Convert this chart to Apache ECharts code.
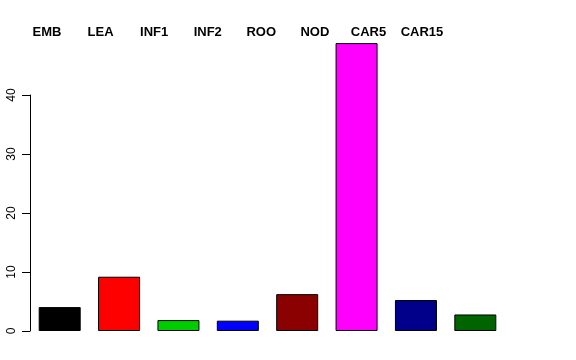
<!DOCTYPE html>
<html>
<head>
<meta charset="utf-8">
<script src="https://cdn.jsdelivr.net/npm/echarts@6/dist/echarts.min.js"></script>
<style>html,body{margin:0;padding:0;background:#fff;}#c{width:576px;height:360px;}</style>
</head>
<body>
<div id="c"></div>
<script>
var categories = ["EMB", "LEA", "INF1", "INF2", "ROO", "NOD", "CAR5", "CAR15"];
var values = [4.05, 9.2, 1.85, 1.75, 6.25, 48.8, 5.25, 2.8];
var barColors = ["#000000", "#FF0000", "#00CD00", "#0000FF", "#8B0000", "#FF00FF", "#00008B", "#006400"];
var yTicks = [0, 10, 20, 30, 40];

var chart = echarts.init(document.getElementById('c'), null, {renderer: 'canvas'});
var font = '"Liberation Sans", Arial, Helvetica, sans-serif';
chart.setOption({
  animation: false,
  backgroundColor: '#ffffff',
  grid: [
    {left: 30, width: 475, top: 36, height: 295},
    {left: 30, width: 475, top: 95, height: 236},
    {left: 20.2, width: 428.6, top: 40, height: 1}
  ],
  xAxis: [
    {gridIndex: 0, type: 'category', data: categories, show: false},
    {gridIndex: 1, type: 'category', data: categories, show: false},
    {gridIndex: 2, type: 'category', data: categories, position: 'top',
     axisLine: {show: false}, axisTick: {show: false},
     axisLabel: {show: true, interval: 0, margin: 8, verticalAlign: 'middle',
       fontFamily: font, fontSize: 13, fontWeight: 'bold', color: '#000'}}
  ],
  yAxis: [
    {gridIndex: 0, type: 'value', min: 0, max: 50, show: false},
    {gridIndex: 1, type: 'value', min: yTicks[0], max: yTicks[yTicks.length - 1], interval: 10,
     axisLine: {show: true, lineStyle: {color: '#000', width: 1}},
     axisTick: {show: true, length: 8, lineStyle: {color: '#000'}},
     splitLine: {show: false},
     axisLabel: {rotate: 90, margin: 12, fontFamily: font, fontSize: 12, color: '#000'}},
    {gridIndex: 2, type: 'value', show: false}
  ],
  series: [
    {type: 'bar', xAxisIndex: 0, yAxisIndex: 0, barWidth: 42,
     data: values.map(function (v, i) {
       return {value: v, itemStyle: {color: barColors[i], borderColor: '#000', borderWidth: 1}};
     })},
    {type: 'line', xAxisIndex: 1, yAxisIndex: 1, data: []},
    {type: 'line', xAxisIndex: 2, yAxisIndex: 2, data: []}
  ]
});
</script>
</body>
</html>
